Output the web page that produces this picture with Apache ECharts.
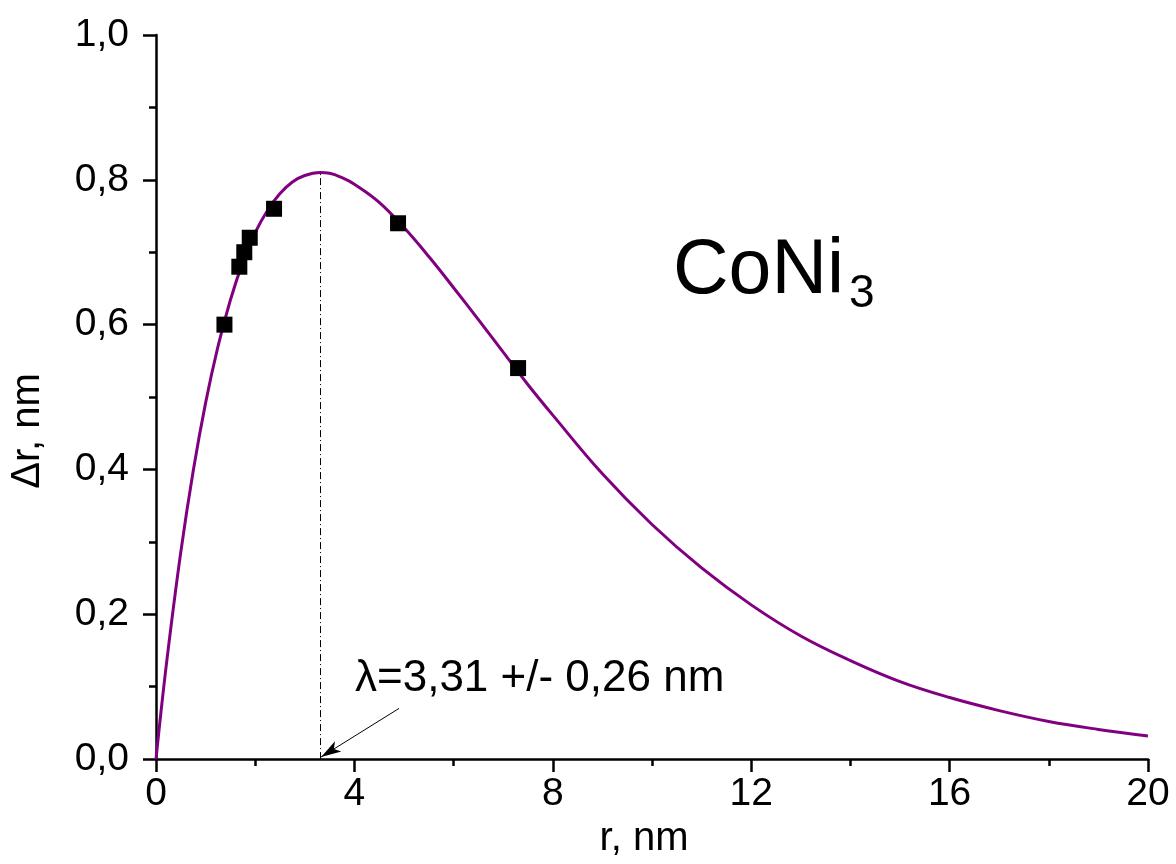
<!DOCTYPE html>
<html>
<head>
<meta charset="utf-8">
<script src="https://cdn.jsdelivr.net/npm/echarts@6/dist/echarts.min.js"></script>
<style>
html,body{margin:0;padding:0;background:#fff;}
#chart{width:1176px;height:864px;}
</style>
</head>
<body>
<div id="chart"></div>
<script>
// Fitted curve (r in nm, Δr in nm)
const curveR  = [0, 0.1, 0.25, 0.5, 0.75, 1, 1.25, 1.5, 1.75, 2, 2.25, 2.5, 2.75, 3, 3.31, 3.5, 3.75, 4, 4.5, 5, 5.5, 6, 6.5, 7, 7.5, 8, 9, 10, 11, 12, 13, 14, 15, 16, 17, 18, 19, 20];
const curveDr = [0, 0.065, 0.154, 0.286, 0.398, 0.492, 0.570, 0.634, 0.686, 0.727, 0.758, 0.781, 0.797, 0.806, 0.810, 0.809, 0.803, 0.794, 0.769, 0.734, 0.694, 0.651, 0.607, 0.562, 0.517, 0.475, 0.394, 0.324, 0.264, 0.213, 0.170, 0.136, 0.107, 0.085, 0.067, 0.052, 0.041, 0.032];
// Measured points
const pointR  = [1.38, 1.68, 1.78, 1.89, 2.38, 4.88, 7.30];
const pointDr = [0.60, 0.68, 0.70, 0.72, 0.76, 0.74, 0.54];
// Lambda marker
const lambdaValue = 3.31;
const lambdaPeak = 0.81;
const arrowFrom = [4.90, 0.070];
const arrowTo = [3.33, 0.003];
const xTicks = [0, 4, 8, 12, 16, 20];
const yTicks = [0.0, 0.2, 0.4, 0.6, 0.8, 1.0];
const annotationText = 'λ=3,31 +/- 0,26 nm';
const compoundMain = 'CoNi';
const compoundSub = '3';
const xTitle = 'r, nm';
const yTitle = 'Δr, nm';

const FONT = '"Liberation Sans", Arial, sans-serif';
const chart = echarts.init(document.getElementById('chart'), null, {renderer: 'canvas'});

const axisCommon = {
  axisLine: {show: true, onZero: false, lineStyle: {color: '#000', width: 2.5}},
  axisTick: {show: true, inside: false, length: 13, lineStyle: {color: '#000', width: 2.5}},
  minorTick: {show: true, splitNumber: 2, length: 7, lineStyle: {color: '#000', width: 2.5}},
  splitLine: {show: false},
  minorSplitLine: {show: false}
};

chart.setOption({
  animation: false,
  backgroundColor: '#fff',
  grid: {left: 156, right: 28, top: 35, bottom: 99, containLabel: false},
  xAxis: Object.assign({
    type: 'value',
    min: xTicks[0], max: xTicks[xTicks.length - 1], interval: xTicks[1] - xTicks[0],
    name: xTitle, nameLocation: 'middle', nameGap: 58,
    nameTextStyle: {fontFamily: FONT, fontSize: 40, color: '#000', padding: [0, 16, 0, 0]},
    axisLabel: {margin: 16, fontFamily: FONT, fontSize: 39, color: '#000',
      formatter: v => String(v).replace('.', ',')}
  }, axisCommon),
  yAxis: Object.assign({
    type: 'value',
    min: yTicks[0], max: yTicks[yTicks.length - 1], interval: 0.2,
    axisLabel: {margin: 27, fontFamily: FONT, fontSize: 39, color: '#000',
      formatter: v => v.toFixed(1).replace('.', ',')}
  }, axisCommon),
  graphic: [
    {type: 'text', x: 28, y: 431, rotation: Math.PI / 2,
      style: {text: yTitle, fontFamily: FONT, fontSize: 40, fill: '#000', align: 'center', verticalAlign: 'middle'}},
    {type: 'text', x: 673, y: 272,
      style: {text: compoundMain, fontFamily: FONT, fontSize: 77, fill: '#000', align: 'left', verticalAlign: 'middle'}},
    {type: 'text', x: 849, y: 294,
      style: {text: compoundSub, fontFamily: FONT, fontSize: 46, fill: '#000', align: 'left', verticalAlign: 'middle'}},
    {type: 'text', x: 355, y: 679,
      style: {text: annotationText, fontFamily: FONT, fontSize: 44, fill: '#000', align: 'left', verticalAlign: 'middle'}}
  ],
  series: [
    {
      type: 'line', name: 'fit',
      data: curveR.map((r, i) => [r, curveDr[i]]),
      smooth: 0.4, showSymbol: false, symbol: 'none',
      lineStyle: {color: '#800080', width: 3},
      z: 3,
      markLine: {
        silent: true, animation: false,
        label: {show: false},
        data: [
          [
            {coord: [lambdaValue, 0], symbol: 'none', lineStyle: {color: '#000', width: 1, type: [7, 3, 1, 3]}},
            {coord: [lambdaValue, lambdaPeak], symbol: 'none'}
          ],
          [
            {coord: arrowFrom, symbol: 'none', lineStyle: {color: '#000', width: 1, type: 'solid'}},
            {coord: arrowTo, symbol: 'arrow', symbolSize: [9, 20]}
          ]
        ]
      }
    },
    {
      type: 'scatter', name: 'data',
      data: pointR.map((r, i) => [r, pointDr[i]]),
      symbol: 'rect', symbolSize: 16,
      itemStyle: {color: '#000', opacity: 1},
      z: 4
    }
  ]
});
</script>
</body>
</html>
